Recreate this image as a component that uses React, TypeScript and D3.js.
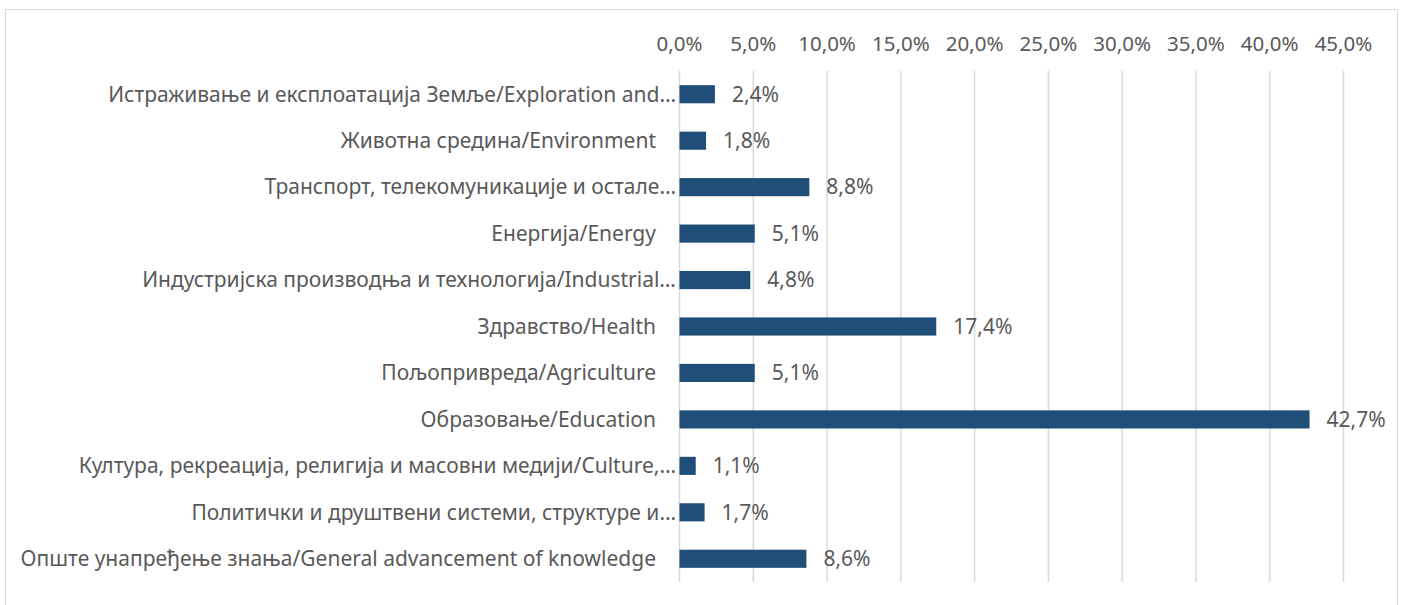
import React from "react";
import * as d3 from "d3";

const categories = [
  "Истраживање и експлоатација Земље/Exploration and…",
  "Животна средина/Environment",
  "Транспорт, телекомуникације и остале…",
  "Енергија/Energy",
  "Индустријска производња и технологија/Industrial…",
  "Здравство/Health",
  "Пољопривреда/Agriculture",
  "Образовање/Education",
  "Култура, рекреација, религија и масовни медији/Culture,…",
  "Политички и друштвени системи, структуре и…",
  "Опште унапређење знања/General advancement of knowledge",
];

const values = [2.4, 1.8, 8.8, 5.1, 4.8, 17.4, 5.1, 42.7, 1.1, 1.7, 8.6];

const ticks = [0, 5, 10, 15, 20, 25, 30, 35, 40, 45];

const W = 1405;
const H = 605;
const FONT = "'Noto Sans', sans-serif";
const TEXT = "#595959";
const GRID = "#d9d9d9";
const BAR = "#1f4e79";

const fmt = (v: number) => v.toFixed(1).replace(".", ",") + "%";

const App: React.FC = () => {
  const x = d3.scaleLinear().domain([0, 45]).range([679.5, 1343.5]);
  const y = d3
    .scaleBand<string>()
    .domain(categories)
    .range([71, 582])
    .paddingInner(0.61)
    .paddingOuter(0.305);

  return (
    <div style={{ position: "absolute", left: 0, top: 0 }}>
      <svg width={W} height={H} style={{ display: "block", background: "#fff" }}>
        <rect x={5.5} y={9.5} width={1392} height={600} fill="#fff" stroke={GRID} strokeWidth={1} />

        {/* vertical gridlines */}
        {ticks.map((t) => (
          <line key={"g" + t} x1={x(t)} x2={x(t)} y1={71} y2={582} stroke={GRID} strokeWidth={1.5} />
        ))}

        {/* top tick labels */}
        {ticks.map((t) => (
          <text
            key={"t" + t}
            x={x(t)}
            y={44}
            dy="0.35em"
            textAnchor="middle"
            fontFamily={FONT}
            fontSize={20.5}
            fill={TEXT}
          >
            {fmt(t)}
          </text>
        ))}

        {/* bars */}
        {categories.map((c, i) => (
          <rect
            key={"b" + i}
            x={x(0)}
            y={y(c)}
            width={x(values[i]) - x(0)}
            height={y.bandwidth()}
            fill={BAR}
          />
        ))}

        {/* value labels */}
        {categories.map((c, i) => (
          <text
            key={"v" + i}
            x={x(values[i]) + 17}
            y={(y(c) as number) + y.bandwidth() / 2}
            dy="0.35em"
            fontFamily={FONT}
            fontSize={21}
            fill={TEXT}
          >
            {fmt(values[i])}
          </text>
        ))}

        {/* category labels */}
        {categories.map((c, i) => (
          <text
            key={"c" + i}
            x={c.endsWith("…") ? 676 : 656}
            y={(y(c) as number) + y.bandwidth() / 2}
            dy="0.35em"
            textAnchor="end"
            fontFamily={FONT}
            fontSize={21}
            fill={TEXT}
          >
            {c}
          </text>
        ))}
      </svg>
    </div>
  );
};

export default App;
